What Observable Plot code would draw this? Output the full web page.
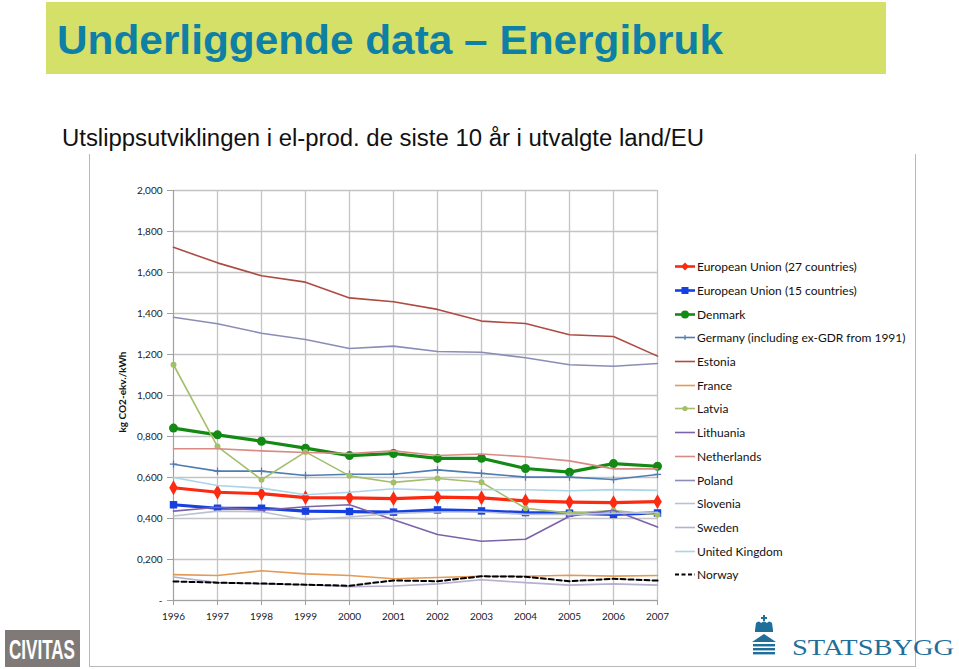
<!DOCTYPE html>
<html><head><meta charset="utf-8">
<script src="https://cdn.jsdelivr.net/npm/d3@7"></script>
<script src="https://cdn.jsdelivr.net/npm/@observablehq/plot@0.6"></script>
<style>
body{margin:0;background:#fff;}
#page{position:relative;width:959px;height:669px;overflow:hidden;font-family:Lato, "Open Sans", sans-serif;background:#fff;}
#banner{position:absolute;left:46px;top:2px;width:840px;height:72px;background:#d5e069;}
#frame{position:absolute;left:89px;top:154px;width:825px;height:512px;border-left:1px solid #b8b8b8;border-right:1px solid #b8b8b8;border-bottom:1px solid #b8b8b8;}
#chart{position:absolute;left:89px;top:155px;}
#ylabel{position:absolute;left:122px;top:392px;transform:translate(-50%,-50%) rotate(-90deg);font-size:10px;font-weight:700;color:#111;white-space:nowrap;}
#legend{position:absolute;left:675px;top:255px;}
.item{height:23.7px;display:flex;align-items:center;font-size:12px;color:#111;white-space:nowrap;}
.item svg{margin-right:2px;}
</style></head><body><div id="page">
<div id="banner"></div>
<svg style="position:absolute;left:0;top:0" width="959" height="160">
  <text x="57" y="54" font-family="Liberation Sans, Arial, sans-serif" font-weight="700" font-size="40" fill="#0e7fa5" textLength="666" lengthAdjust="spacingAndGlyphs">Underliggende data – Energibruk</text>
  <text x="62" y="146" font-family="Liberation Sans, Arial, sans-serif" font-size="23" fill="#111" textLength="642" lengthAdjust="spacingAndGlyphs">Utslippsutviklingen i el-prod. de siste 10 år i utvalgte land/EU</text>
</svg>
<div id="frame"></div>
<div id="chart"></div>
<div id="ylabel">kg CO2-ekv./kWh</div>
<div id="legend"></div>
<svg style="position:absolute;left:0;top:600px" width="959" height="69">
  <rect x="5" y="30" width="75" height="37" fill="#7f7a77"/>
  <text x="9" y="59" font-family="Liberation Sans, Arial, sans-serif" font-weight="700" font-size="27" fill="#fff" textLength="66" lengthAdjust="spacingAndGlyphs">CIVITAS</text>
  <g fill="#1f6f9a" transform="translate(750,15)">
    <rect x="13" y="0" width="2" height="6"/>
    <rect x="11" y="2" width="6" height="2"/>
    <path d="M5 15 L6 8 Q9 5 11 8 Q14 5 17 8 Q19 5 22 8 L23 15 Z"/>
    <rect x="5" y="15" width="18" height="2"/>
    <path d="M2 27 L14 19 L26 27 Z"/>
    <rect x="3" y="29" width="22" height="2.4"/>
    <rect x="3" y="33" width="22" height="2.4"/>
    <rect x="3" y="37" width="22" height="2.4"/>
  </g>
  <text x="792" y="55" font-family="Liberation Serif, 'DejaVu Serif', serif" font-size="24" fill="#1f6f9a" textLength="162" lengthAdjust="spacingAndGlyphs">STATSBYGG</text>
</svg>
</div>
<script>
const years = [1996,1997,1998,1999,2000,2001,2002,2003,2004,2005,2006,2007];
const yTicks = [0,0.2,0.4,0.6,0.8,1.0,1.2,1.4,1.6,1.8,2.0];
const seriesNames = [
  "European Union (27 countries)",
  "European Union (15 countries)",
  "Denmark",
  "Germany (including ex-GDR from 1991)",
  "Estonia",
  "France",
  "Latvia",
  "Lithuania",
  "Netherlands",
  "Poland",
  "Slovenia",
  "Sweden",
  "United Kingdom",
  "Norway"
];
const eu27 =        [0.550,0.528,0.521,0.502,0.501,0.497,0.504,0.501,0.486,0.480,0.477,0.482];
const eu15 =        [0.467,0.450,0.450,0.436,0.434,0.431,0.442,0.437,0.429,0.426,0.420,0.427];
const denmark =     [0.841,0.808,0.777,0.743,0.707,0.717,0.693,0.694,0.644,0.626,0.668,0.655];
const germany =     [0.665,0.631,0.631,0.610,0.616,0.616,0.637,0.620,0.602,0.602,0.590,0.615];
const estonia =     [1.723,1.647,1.584,1.553,1.476,1.457,1.420,1.363,1.351,1.296,1.288,1.192];
const france =      [0.126,0.122,0.145,0.130,0.122,0.106,0.112,0.118,0.118,0.123,0.119,0.122];
const latvia =      [1.150,0.751,0.589,0.725,0.608,0.576,0.595,0.577,0.450,0.426,0.439,0.418];
const lithuania =   [0.436,0.455,0.440,0.457,0.467,0.394,0.322,0.289,0.299,0.411,0.440,0.358];
const netherlands = [0.740,0.740,0.730,0.722,0.717,0.730,0.707,0.715,0.701,0.681,0.642,0.642];
const poland =      [1.382,1.350,1.304,1.273,1.229,1.241,1.215,1.211,1.184,1.150,1.143,1.156];
const slovenia =    [0.412,0.436,0.433,0.394,0.407,0.425,0.432,0.432,0.420,0.420,0.425,0.430];
const sweden =      [0.115,0.087,0.081,0.077,0.067,0.071,0.081,0.101,0.087,0.075,0.081,0.075];
const uk =          [0.600,0.561,0.548,0.516,0.528,0.545,0.537,0.541,0.540,0.535,0.541,0.537];
const norway =      [0.093,0.087,0.083,0.077,0.072,0.098,0.094,0.118,0.116,0.094,0.106,0.097];

const seriesValues = [eu27,eu15,denmark,germany,estonia,france,latvia,lithuania,netherlands,poland,slovenia,sweden,uk,norway];

// styles (kept apart from data)
const styles = [
  {color:"#fb2a10", width:3.2, symbol:"diamond", r:4.5},
  {color:"#1740e0", width:3.2, symbol:"square", r:4.2},
  {color:"#138a13", width:3.2, symbol:"circle", r:4.5},
  {color:"#4f7db3", width:1.6, symbol:"plus", r:2.5},
  {color:"#ad4b42", width:1.6},
  {color:"#e39a55", width:1.6},
  {color:"#a4bf6b", width:1.6, symbol:"circle", r:3},
  {color:"#7d62a8", width:1.6},
  {color:"#da8a84", width:1.6},
  {color:"#8c8db6", width:1.6},
  {color:"#b9c1d5", width:1.6},
  {color:"#b6afcf", width:1.6},
  {color:"#abd4e7", width:1.6},
  {color:"#000000", width:2, dash:"5,3"}
];

const rows = [];
seriesNames.forEach((name, i) => {
  seriesValues[i].forEach((v, j) => rows.push({series: name, year: years[j], value: v}));
});

const fmt = d => d === 0 ? "-" : d.toFixed(3).replace(".", ",");

const marks = [
  Plot.gridY(yTicks, {stroke:"#c4c4c4", strokeOpacity:1, strokeWidth:1.3}),
  Plot.gridX(years, {stroke:"#c4c4c4", strokeOpacity:1, strokeWidth:1.3}),
  Plot.ruleY([0], {stroke:"#a0a0a0"}),
  Plot.ruleX([1996], {stroke:"#a0a0a0"}),
  Plot.axisY(yTicks, {tickSize:6, tickPadding:5, tickFormat: fmt, stroke:"#a0a0a0", fill:"#222", label:null}),
  Plot.axisX(years, {tickSize:5, tickPadding:7, tickFormat: d => String(d), stroke:"#a0a0a0", fill:"#222", label:null})
];
seriesNames.forEach((name, i) => {
  const s = styles[i];
  const data = rows.filter(r => r.series === name);
  marks.push(Plot.line(data, {x:"year", y:"value", stroke:s.color, strokeWidth:s.width, strokeDasharray:s.dash}));
  if (s.symbol) {
    if (s.symbol === "plus") {
      marks.push(Plot.dot(data, {x:"year", y:"value", symbol:"plus", r:s.r, stroke:s.color, strokeWidth:1.2}));
    } else {
      marks.push(Plot.dot(data, {x:"year", y:"value", symbol:s.symbol, r:s.r, fill:s.color, stroke:"none"}));
    }
  }
});

const chart = Plot.plot({
  width: 826,
  height: 511,
  marginLeft: 84,
  marginRight: 258,
  marginTop: 35,
  marginBottom: 66,
  style: {fontFamily: "Lato, 'Open Sans', sans-serif", fontSize: "10px", background: "transparent", overflow: "visible"},
  x: {domain: [1996, 2007], axis: null},
  y: {domain: [0, 2], axis: null},
  marks
});
document.getElementById("chart").appendChild(chart);

// legend
const legend = document.getElementById("legend");
seriesNames.forEach((name, i) => {
  const s = styles[i];
  const item = document.createElement("div");
  item.className = "item";
  let marker = "";
  if (s.symbol === "diamond") marker = `<path d="M10 1.5 L14 5.5 L10 9.5 L6 5.5 Z" fill="${s.color}"/>`;
  else if (s.symbol === "square") marker = `<rect x="6.5" y="2" width="7" height="7" fill="${s.color}"/>`;
  else if (s.symbol === "circle") marker = `<circle cx="10" cy="5.5" r="${s.r===3?2.6:4}" fill="${s.color}"/>`;
  else if (s.symbol === "plus") marker = `<path d="M10 3 V8" stroke="${s.color}" stroke-width="1.2"/>`;
  item.innerHTML = `<svg width="20" height="11"><line x1="0" x2="20" y1="5.5" y2="5.5" stroke="${s.color}" stroke-width="${Math.min(s.width,2.6)}" ${s.dash?`stroke-dasharray="4,2.5"`:""}/>${marker}</svg><span>${name}</span>`;
  legend.appendChild(item);
});
</script>
</body></html>
